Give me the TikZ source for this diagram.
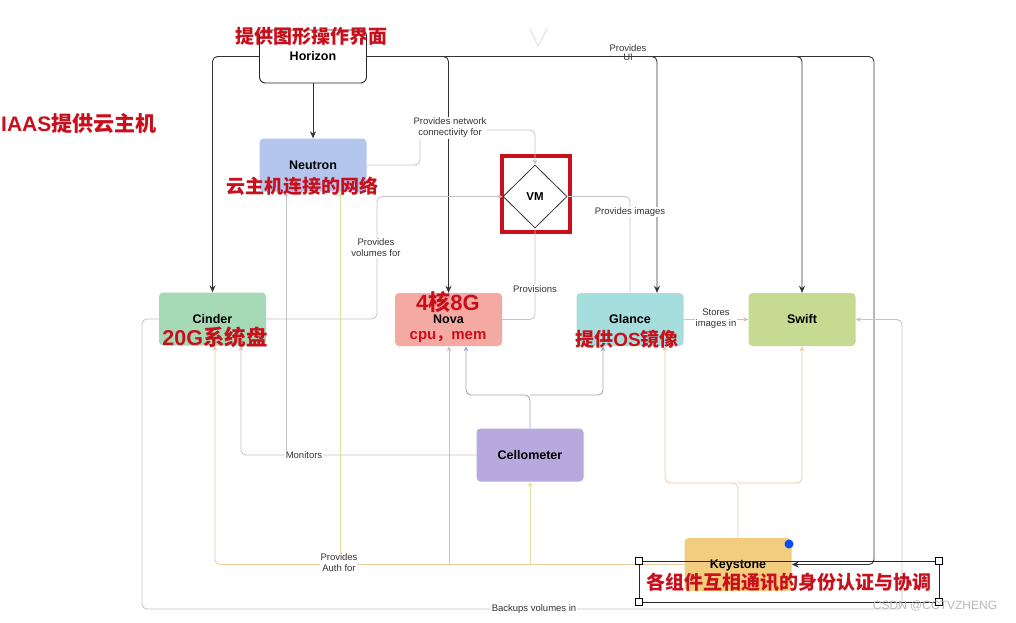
\documentclass[tikz,border=0pt]{standalone}
\usepackage{fontspec}
\setmainfont{Liberation Sans}
\newfontfamily\cjk{Noto Sans CJK SC}
\usetikzlibrary{arrows.meta,shapes.geometric}
\definecolor{redc}{HTML}{C8101C}
\definecolor{neutronc}{HTML}{B4C6EE}
\definecolor{cinderc}{HTML}{A6D9B6}
\definecolor{novac}{HTML}{F5A9A3}
\definecolor{glancec}{HTML}{A6DEDE}
\definecolor{swiftc}{HTML}{C7DA92}
\definecolor{celc}{HTML}{B7A9DD}
\definecolor{keyc}{HTML}{F2CD7E}
\definecolor{grayl}{HTML}{C4C4C4}
\definecolor{purl}{HTML}{A2A2C6}
\definecolor{tanl}{HTML}{EBCB9C}
\definecolor{yell}{HTML}{E4DC9A}
\newcommand{\lat}[1]{{\rmfamily\bfseries #1}}
\begin{document}
\begin{tikzpicture}[x=1pt,y=-1pt,
 box/.style={rounded corners=4pt, minimum width=107pt, minimum height=53pt, inner sep=0pt,
   font=\bfseries\fontsize{12.5}{13}\selectfont},
 ntext/.style={font=\bfseries\fontsize{12.5}{13}\selectfont, inner sep=0pt},
 lbl/.style={font=\fontsize{9.5}{11}\selectfont, fill=white, inner sep=1pt, align=center, text=black!80},
 redl/.style={font=\cjk\bfseries\fontsize{19}{20}\selectfont, text=redc, inner sep=0pt},
 blk/.style={draw=black!80, line width=0.9pt, rounded corners=5pt, -{Stealth[length=7pt,width=6pt]}},
 gr/.style={draw=grayl, line width=0.8pt, rounded corners=5pt, -{Stealth[length=5pt,width=4.5pt]}},
 grn/.style={draw=grayl, line width=0.8pt, rounded corners=5pt},
 pu/.style={draw=purl, line width=0.9pt, rounded corners=5pt, -{Stealth[length=5pt,width=4.5pt]}},
 ta/.style={draw=tanl, line width=0.8pt, rounded corners=5pt, -{Stealth[length=5pt,width=4.5pt]}},
 ye/.style={draw=yell, line width=0.8pt, rounded corners=5pt, -{Stealth[length=5pt,width=4.5pt]}},
 handle/.style={draw=black, fill=white, minimum size=7pt, inner sep=0pt, line width=0.6pt}
]
\useasboundingbox[fill=white] (0,0) rectangle (1016,622);

% faint artifact at top
\draw[gray!20, line width=1.2pt] (530,29) -- (538,46) -- (547,29);

% ---------- nodes ----------
\node[box, draw=black!85, line width=0.9pt, rounded corners=6pt, fill=white] (hor) at (313,56.5) {Horizon};
\node[box, fill=neutronc] (neu) at (313,165) {Neutron};
\node[box, fill=cinderc] (cin) at (212.5,319) {Cinder};
\node[box, fill=novac] (nova) at (448.5,319.5) {};
\node[box, fill=glancec] (gl) at (630,319.5) {};
\node[box, fill=swiftc] (sw) at (802,319.5) {Swift};
\node[box, fill=celc] (cel) at (530,455) {Cellometer};
\node[box, fill=keyc] (key) at (738,564.5) {};
\node[draw=redc, line width=4pt, minimum width=68pt, minimum height=76pt, inner sep=0pt] (vmbox) at (535.5,193.5) {};
\node[diamond, draw=black!80, line width=0.8pt, minimum width=64pt, minimum height=63pt, inner sep=0pt,
  font=\bfseries\fontsize{11.5}{12}\selectfont] (vm) at (535,196.5) {VM};

% ---------- black connectors from Horizon ----------
\draw[blk] (hor.south) -- (neu.north);
\draw[blk] (hor.west) -| (cin.north);
\draw[blk] (hor.east) -| (nova.north);
\draw[blk] (hor.east) -| ([xshift=27pt]gl.north);
\draw[blk] (hor.east) -| (sw.north);
\coordinate (rt) at (874,56.5);
\coordinate (rb) at (874,564.5);
\draw[blk] (hor.east) -- (rt) -- (rb) -- (key.east);

% ---------- gray connectors ----------
\coordinate (n1) at (420,165);
\coordinate (n2) at (420,130);
\coordinate (n3) at (535,130);
\draw[gr] (neu.east) -- (n1) -- (n2) -- (n3) -- (vm.north);
\coordinate (c1) at (377,319);
\coordinate (c2) at (377,196.5);
\draw[gr] (cin.east) -- (c1) -- (c2) -- (vm.west);
\coordinate (p1) at (535,319.5);
\draw[grn] (nova.east) -- (p1) -- (vm.south);
\coordinate (g1) at (630,196.5);
\draw[grn] (vm.east) -- (g1) -- (gl.north);
\draw[gr] (gl.east) -- (sw.west);

% Cellometer
\coordinate (cj) at (530,395);
\coordinate (cl) at (466,395);
\coordinate (cr) at (603,395);
\draw[pu] (cel.north) -- (cj) -- (cl) -- (cl |- nova.south);
\draw[pu] (cj) -- (cr) -- (cr |- gl.south);
\coordinate (m1) at (241,455);
\draw[gr] (cel.west) -- (m1) -- (m1 |- cin.south);
\coordinate (m2) at (286,455);
\draw[gr] (m2) -- (m2 |- neu.south);

% Keystone
\coordinate (kj) at (738,483);
\coordinate (kl) at (665,483);
\coordinate (kr) at (802,483);
\draw[ta] (key.north) -- (kj) -- (kl) -- (kl |- gl.south);
\draw[ta] (kj) -- (kr) -- (sw.south);
\coordinate (a1) at (215,564.5);
\draw[ta] (key.west) -- (a1) -- (a1 |- cin.south);
\coordinate (a2) at (340,564.5);
\draw[ye] (a2) -- (a2 |- neu.south);
\coordinate (a3) at (449,564.5);
\draw[gr] (a3) -- (a3 |- nova.south);
\coordinate (a4) at (530,564.5);
\draw[ye] (a4) -- (cel.south);

% Backups
\coordinate (b1) at (142,319);
\coordinate (b2) at (142,609);
\coordinate (b3) at (902,609);
\coordinate (b4) at (902,319.5);
\draw[gr] (cin.west) -- (b1) -- (b2) -- (b3) -- (b4) -- (sw.east);

% ---------- connector labels ----------
\node[lbl, fill=none] (lui) at (628,53) {Provides\\[-2pt]UI};
\node[lbl] (lnet) at (450,128) {Provides network\\connectivity for};
\node[lbl] (lvol) at (376,248) {Provides\\volumes for};
\node[lbl] (lprov) at (535,289) {Provisions};
\node[lbl] (limg) at (630,212) {Provides images};
\node[lbl] (lsto) at (716,318.5) {Stores\\images in};
\node[lbl] (lmon) at (304,455) {Monitors};
\node[lbl] (lauth) at (339,563) {Provides\\Auth for};
\node[lbl] (lbak) at (534,609) {Backups volumes in};

% ---------- node texts ----------
\node[ntext] (tnova) at (448.5,319) {Nova};
\node[ntext] (tgl) at (630,319) {Glance};
\node[ntext] (tkey) at (738,565) {Keystone};

% ---------- red annotations ----------
\node[redl] (r1) at (311,36) {提供图形操作界面};
\node[redl, anchor=west, font=\cjk\bfseries\fontsize{21}{22}\selectfont] (r2) at (1,124) {\lat{IAAS}提供云主机};
\node[redl] (r3) at (302,186) {云主机连接的网络};
\node[redl, font=\cjk\bfseries\fontsize{21.5}{22}\selectfont] (r4) at (215,337) {\lat{20G}系统盘};
\node[redl, font=\cjk\bfseries\fontsize{22}{22}\selectfont] (r5) at (448,302.5) {\lat{4}核\lat{8G}};
\node[redl, font=\cjk\bfseries\fontsize{15}{16}\selectfont] (r6) at (448,337) {\lat{cpu}，\lat{mem}};
\node[redl, font=\cjk\bfseries\fontsize{19}{20}\selectfont] (r7) at (627,339) {提供\lat{OS}镜像};

% ---------- selection frame around Keystone note ----------
\draw[black!85, line width=0.7pt] (639,561) rectangle (939,602);
\node[handle] (h1) at (639,561) {};
\node[handle] (h2) at (939,561) {};
\node[handle] (h3) at (639,602) {};
\node[handle] (h4) at (939,602) {};
\fill[blue!70!cyan] (789,544) circle (4.5pt);
\node[redl] (r8) at (789,582) {各组件互相通讯的身份认证与协调};

% watermark
\node[font=\fontsize{12}{13}\selectfont, text=gray!55, inner sep=0pt] (wm) at (935,606) {CSDN @CCTVZHENG};
\end{tikzpicture}
\end{document}
